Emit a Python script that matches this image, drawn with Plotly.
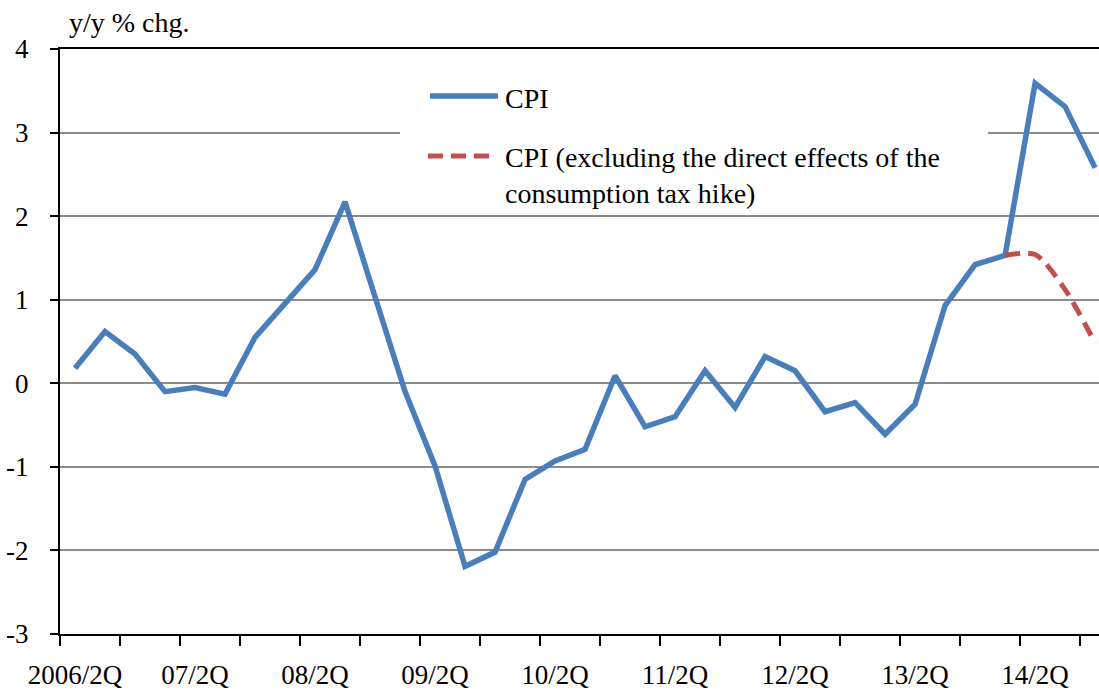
import plotly.graph_objects as go

# ---------------- data ----------------
quarters = [
    "2006/2Q", "06/3Q", "06/4Q",
    "07/1Q", "07/2Q", "07/3Q", "07/4Q",
    "08/1Q", "08/2Q", "08/3Q", "08/4Q",
    "09/1Q", "09/2Q", "09/3Q", "09/4Q",
    "10/1Q", "10/2Q", "10/3Q", "10/4Q",
    "11/1Q", "11/2Q", "11/3Q", "11/4Q",
    "12/1Q", "12/2Q", "12/3Q", "12/4Q",
    "13/1Q", "13/2Q", "13/3Q", "13/4Q",
    "14/1Q", "14/2Q", "14/3Q", "14/4Q",
]
cpi = [
    0.18, 0.62, 0.35,
    -0.10, -0.05, -0.13, 0.55,
    0.96, 1.36, 2.17, 1.03,
    -0.10, -0.99, -2.19, -2.02,
    -1.15, -0.93, -0.79, 0.09,
    -0.52, -0.40, 0.15, -0.29,
    0.32, 0.15, -0.34, -0.23,
    -0.61, -0.25, 0.93, 1.42,
    1.53, 3.59, 3.31, 2.58,
]
cpi_ex_tax_quarters = ["14/1Q", "14/2Q", "14/3Q", "14/4Q"]
cpi_ex_tax = [1.53, 1.54, 1.12, 0.48]

tick_labels = ["2006/2Q", "07/2Q", "08/2Q", "09/2Q", "10/2Q",
               "11/2Q", "12/2Q", "13/2Q", "14/2Q"]
y_ticks = [-3, -2, -1, 0, 1, 2, 3, 4]
y_tick_text = ["-3", "-2", "-1", "0", "1", "2", "3", "4"]

name_cpi = "CPI"
name_ex = "CPI (excluding the direct effects of the<br>consumption tax hike)"

# ---------------- style ----------------
FONT = "Liberation Serif, Times New Roman, serif"
FS = 27
FS_TXT = 28
BLUE = "#4A7EBB"
RED = "#C0504D"
GRID = "#8C8C8C"

W, H = 1099, 691
ML, MR, MT, MB = 60, 0, 49, H - 634
PW = W - ML - MR
PH = H - MT - MB


def px_x(px):
    # window pixel -> paper x
    return (px - ML) / PW


def px_y(py):
    # window pixel -> paper y
    return (H - MB - py) / PH


fig = go.Figure()
fig.add_trace(go.Scatter(
    x=quarters, y=cpi, mode="lines", name=name_cpi,
    line=dict(color=BLUE, width=5.5), showlegend=False,
))
fig.add_trace(go.Scatter(
    x=cpi_ex_tax_quarters, y=cpi_ex_tax, mode="lines", name=name_ex,
    line=dict(color=RED, width=5, dash="15px,8px", shape="spline", smoothing=0.8),
    showlegend=False,
))

n = len(quarters)
minor_ticks = [i - 0.5 for i in range(0, n + 1, 2)]

fig.update_xaxes(
    type="category",
    categoryorder="array", categoryarray=quarters,
    range=[-0.5, 34.13],
    tickmode="array", tickvals=tick_labels, ticktext=tick_labels,
    ticks="", showgrid=False, zeroline=False,
    showline=True, linecolor="black", linewidth=2, mirror=True,
    tickfont=dict(family=FONT, size=FS, color="black"),
    ticklabelstandoff=16,
    minor=dict(tickmode="array", tickvals=minor_ticks, ticks="outside",
               ticklen=10, tickwidth=2, tickcolor="black", showgrid=False),
)
fig.update_yaxes(
    range=[-3, 4], tickmode="array", tickvals=y_ticks, ticktext=y_tick_text,
    showgrid=True, gridcolor=GRID, gridwidth=2,
    zeroline=False,
    showline=True, linecolor="black", linewidth=2,
    ticks="outside", ticklen=8, tickwidth=2, tickcolor="black",
    tickfont=dict(family=FONT, size=FS, color="black"),
    ticklabelstandoff=16,
)

# custom legend (white box, samples, text)
shapes = [
    dict(type="rect", xref="paper", yref="paper", layer="above",
         x0=px_x(400), x1=px_x(988), y0=px_y(210), y1=px_y(68),
         fillcolor="white", line=dict(width=0)),
    dict(type="line", xref="paper", yref="paper", layer="above",
         x0=px_x(430), x1=px_x(498), y0=px_y(96), y1=px_y(96),
         line=dict(color=BLUE, width=5.5)),
    dict(type="line", xref="paper", yref="paper", layer="above",
         x0=px_x(428), x1=px_x(494), y0=px_y(156), y1=px_y(156),
         line=dict(color=RED, width=5, dash="15px,8px")),
]
annotations = [
    dict(text=name_cpi, xref="paper", yref="paper", x=px_x(503), y=px_y(98),
         xanchor="left", yanchor="middle", showarrow=False, align="left",
         font=dict(family=FONT, size=FS_TXT, color="black")),
    dict(text=name_ex, xref="paper", yref="paper", x=px_x(503), y=px_y(175),
         xanchor="left", yanchor="middle", showarrow=False, align="left",
         font=dict(family=FONT, size=FS_TXT, color="black")),
    dict(text="y/y % chg.", xref="paper", yref="paper", x=px_x(67), y=px_y(23),
         xanchor="left", yanchor="middle", showarrow=False,
         font=dict(family=FONT, size=FS_TXT, color="black")),
]

fig.update_layout(
    width=W, height=H, autosize=False,
    margin=dict(l=ML, r=MR, t=MT, b=MB, pad=0),
    plot_bgcolor="white", paper_bgcolor="white",
    showlegend=False,
    shapes=shapes, annotations=annotations,
)

fig.write_html(
    "out.html",
    config={"displayModeBar": False},
    post_script="document.body.style.margin='0px';"
                "document.body.style.overflow='hidden';",
)
